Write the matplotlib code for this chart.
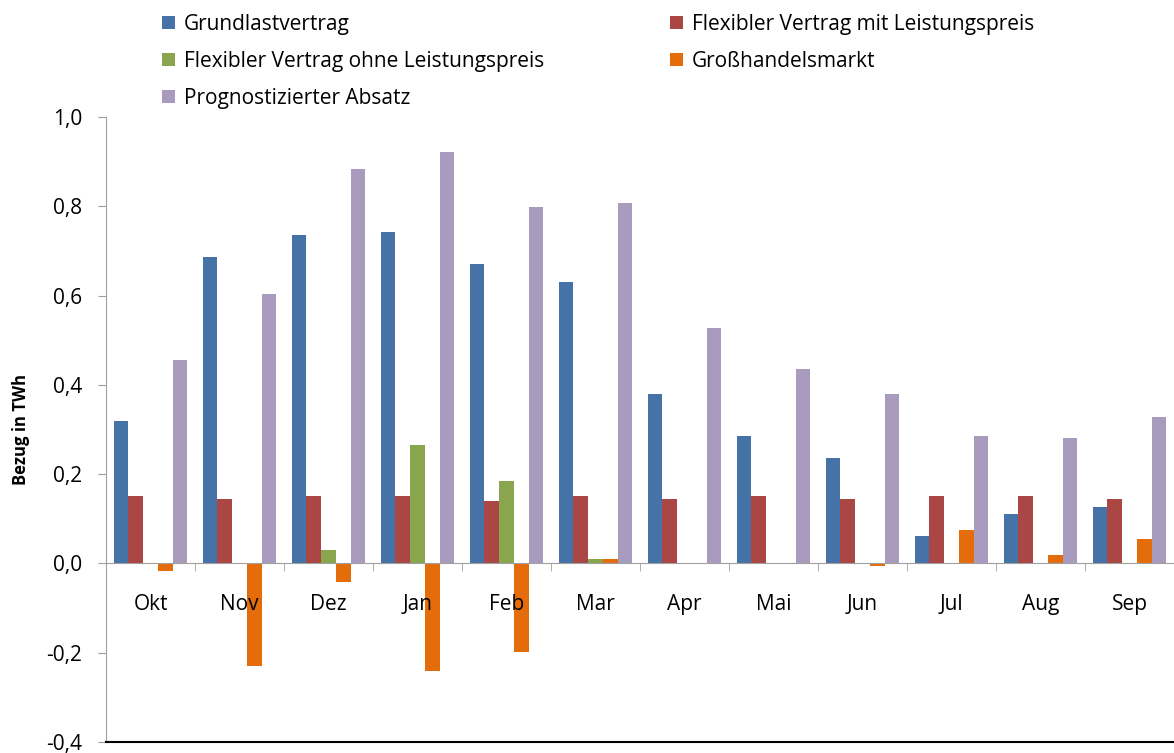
import numpy as np
import matplotlib
matplotlib.use("Agg")
import matplotlib.pyplot as plt

plt.rcParams['font.family'] = ['Open Sans', 'DejaVu Sans']

months = ['Okt', 'Nov', 'Dez', 'Jan', 'Feb', 'Mar', 'Apr', 'Mai', 'Jun', 'Jul', 'Aug', 'Sep']
grundlast = [0.32, 0.687, 0.735, 0.742, 0.670, 0.630, 0.380, 0.286, 0.237, 0.061, 0.110, 0.127]
flex_mit = [0.152, 0.145, 0.152, 0.152, 0.139, 0.152, 0.145, 0.152, 0.145, 0.150, 0.150, 0.145]
flex_ohne = [0.0, 0.0, 0.031, 0.266, 0.185, 0.011, 0.0, 0.0, 0.0, 0.0, 0.0, 0.0]
grosshandel = [-0.017, -0.229, -0.042, -0.241, -0.198, 0.011, 0.0, 0.0, -0.005, 0.074, 0.018, 0.054]
absatz = [0.456, 0.604, 0.883, 0.921, 0.798, 0.807, 0.527, 0.436, 0.380, 0.286, 0.282, 0.329]

series = [
    ('Grundlastvertrag', grundlast, '#4572A7'),
    ('Flexibler Vertrag mit Leistungspreis', flex_mit, '#AA4643'),
    ('Flexibler Vertrag ohne Leistungspreis', flex_ohne, '#89A54E'),
    ('Großhandelsmarkt', grosshandel, '#E46C0A'),
    ('Prognostizierter Absatz', absatz, '#A99BBD'),
]

fig = plt.figure(figsize=(11.74, 7.53), dpi=100)
ax = fig.add_axes([0.0903, 0.0146, 0.9097, 0.83])
ax.set_axisbelow(False)

x = np.arange(len(months))
w = 0.165
handles = []
for i, (name, vals, col) in enumerate(series):
    b = ax.bar(x + (i - 2) * w, vals, w, color=col, label=name, zorder=2)
    handles.append(b)

ax.set_xlim(-0.5, len(months) - 0.5)
ax.set_ylim(-0.4, 1.0)
yt = np.arange(-0.4, 1.01, 0.2)
ax.set_yticks(yt)
ax.set_yticklabels([('%.1f' % v).replace('.', ',').replace('-0,0', '0,0') for v in yt])
ax.set_ylabel('Bezug in TWh', fontsize=12, fontweight='bold', labelpad=12)

ax.set_xticks(x)
ax.set_xticklabels(months)
ax.set_xticks(np.arange(-0.5, len(months)), minor=True)
ax.tick_params(axis='x', which='major', length=0, pad=22, labelsize=15)
ax.tick_params(axis='x', which='minor', length=6, color='#A0A0A0', direction='out')
ax.tick_params(axis='y', length=6, color='#A0A0A0', direction='out', pad=11, labelsize=15)

for s in ['top', 'right']:
    ax.spines[s].set_visible(False)
ax.spines['bottom'].set_position(('data', 0))
ax.spines['bottom'].set_color('#A0A0A0')
ax.spines['left'].set_color('#A0A0A0')
ax.axhline(-0.4, color='black', lw=1.5, clip_on=False, zorder=4)

leg_kw = dict(loc='upper left', frameon=False, fontsize=15, handlelength=0.6,
              handleheight=0.6, handletextpad=0.45, labelspacing=0.76,
              borderaxespad=0, borderpad=0)
leg1 = fig.legend(handles=[handles[0], handles[2], handles[4]],
                  bbox_to_anchor=(162 / 1174, 1 - 14 / 753), **leg_kw)
leg2 = fig.legend(handles=[handles[1], handles[3]],
                  bbox_to_anchor=(670 / 1174, 1 - 14 / 753), **leg_kw)

fig.savefig('out.png', dpi=100)
